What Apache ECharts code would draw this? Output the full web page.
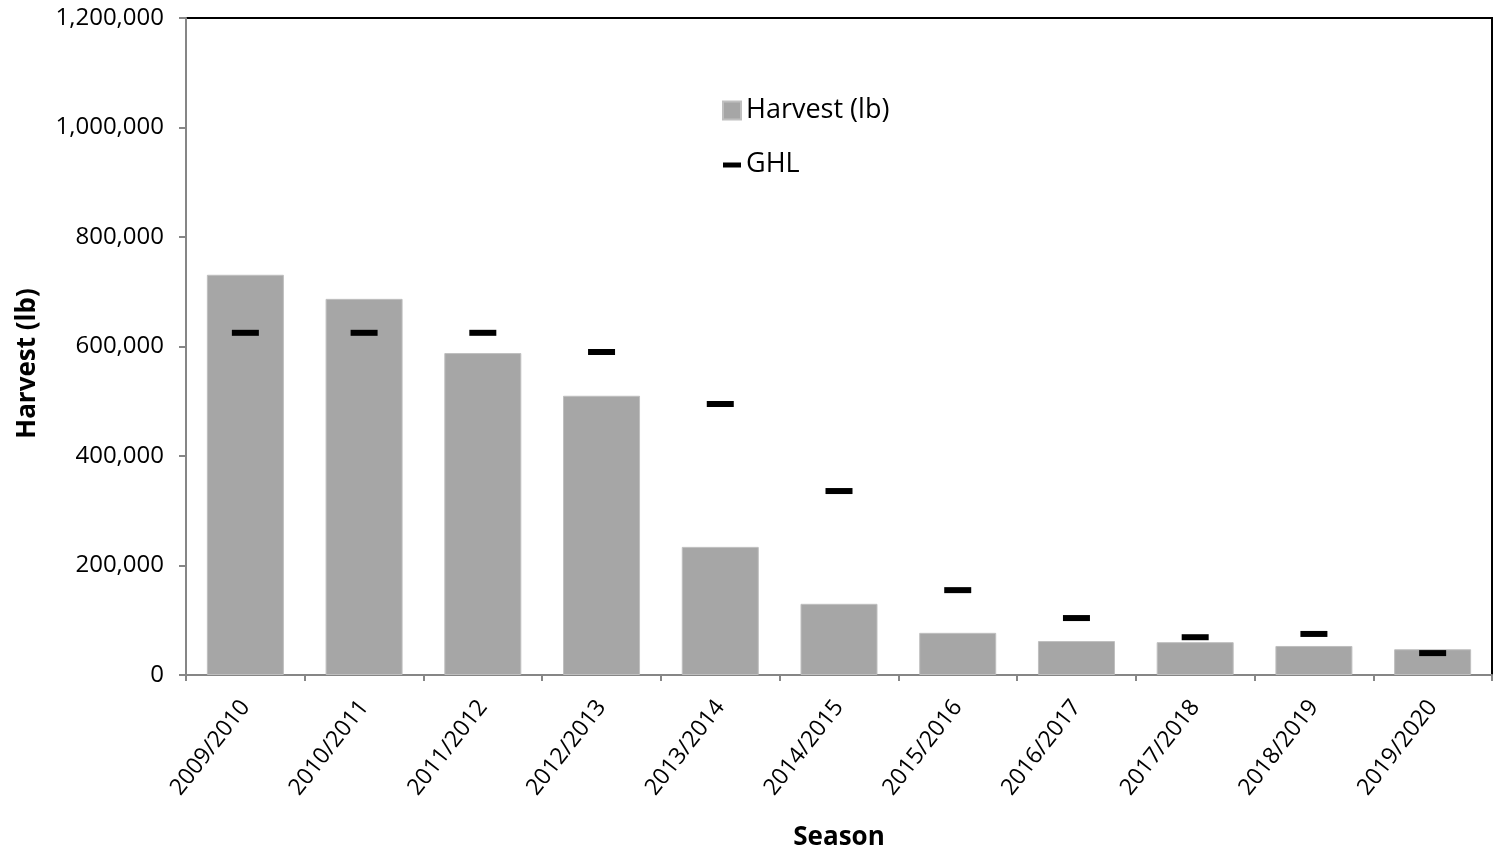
<!DOCTYPE html>
<html>
<head>
<meta charset="utf-8">
<script src="https://cdn.jsdelivr.net/npm/echarts@6/dist/echarts.min.js"></script>
<style>
html,body{margin:0;padding:0;background:#fff;}
#chart{width:1499px;height:852px;}
</style>
</head>
<body>
<div id="chart"></div>
<script>
const seasons = ['2009/2010','2010/2011','2011/2012','2012/2013','2013/2014','2014/2015','2015/2016','2016/2017','2017/2018','2018/2019','2019/2020'];
const harvest = [731000, 687000, 588000, 510000, 234000, 130000, 77000, 62000, 60000, 53000, 47000];
const ghl = [625000, 625000, 625000, 590000, 495000, 336000, 155000, 104000, 69000, 75000, 40000];
const yTicks = [0, 200000, 400000, 600000, 800000, 1000000, 1200000];

const FONT = 'Open Sans';
const chart = echarts.init(document.getElementById('chart'));
chart.setOption({
  animation: false,
  textStyle: { fontFamily: FONT },
  grid: { left: 186, right: 7, top: 18, bottom: 177, show: true, borderColor: '#000', borderWidth: 2, containLabel: false, outerBoundsMode: 'none' },
  legend: {
    orient: 'vertical', left: 717, top: 92,
    itemWidth: 18, itemHeight: 18, itemGap: 27,
    textStyle: { fontSize: 27, color: '#000', fontFamily: FONT, padding: [0,0,0,0] },
    data: [
      { name: 'Harvest (lb)', icon: 'rect' },
      { name: 'GHL', icon: 'path://M0,0 M18,18 M0,7 L18,7 L18,12 L0,12 Z' }
    ]
  },
  xAxis: {
    type: 'category', data: seasons, boundaryGap: true,
    name: 'Season', nameLocation: 'middle', nameGap: 150,
    nameTextStyle: { fontSize: 26, fontWeight: 'bold', color: '#000', fontFamily: FONT },
    axisLine: { lineStyle: { color: '#868686', width: 2 } },
    axisTick: { show: true, length: 6, lineStyle: { color: '#868686', width: 2 } },
    axisLabel: { rotate: 52, fontSize: 23, color: '#000', margin: 28, interval: 0, fontFamily: FONT }
  },
  yAxis: {
    type: 'value', min: 0, max: 1200000, interval: 200000,
    name: 'Harvest (lb)', nameLocation: 'middle', nameGap: 145,
    nameTextStyle: { fontSize: 26, fontWeight: 'bold', color: '#000', fontFamily: FONT, padding: [0, 34, 0, 0] },
    splitLine: { show: false },
    axisLine: { show: true, lineStyle: { color: '#868686', width: 2 } },
    axisTick: { show: true, length: 7, lineStyle: { color: '#868686', width: 2 } },
    axisLabel: {
      fontSize: 24, color: '#000', margin: 22, fontFamily: FONT,
      formatter: v => yTicks.includes(v) ? v.toLocaleString('en-US') : ''
    }
  },
  series: [
    {
      name: 'Harvest (lb)', type: 'bar', data: harvest, barWidth: 77,
      itemStyle: { color: '#A6A6A6', borderColor: '#BFBFBF', borderWidth: 1 }
    },
    {
      name: 'GHL', type: 'scatter', data: ghl, symbol: 'rect', symbolSize: [27, 6],
      itemStyle: { color: '#000', opacity: 1 }, z: 5
    }
  ]
});
</script>
</body>
</html>
